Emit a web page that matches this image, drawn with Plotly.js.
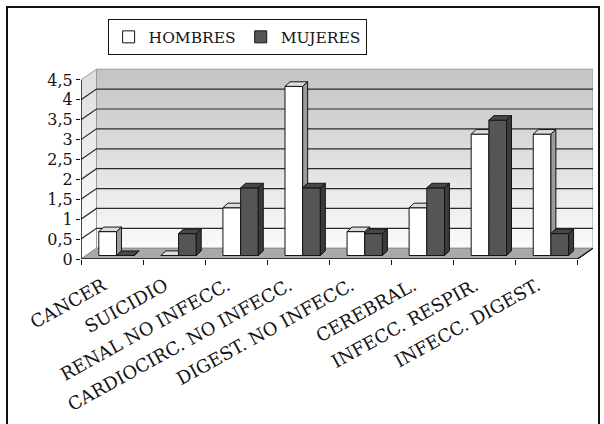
<!DOCTYPE html>
<html>
<head>
<meta charset="utf-8">
<script src="https://cdn.plot.ly/plotly-3.0.1.min.js"></script>
<style>
  html, body { margin: 0; padding: 0; background: #ffffff; }
  #wrap { position: relative; width: 604px; height: 424px; overflow: hidden; }
  #chart { position: absolute; left: 0; top: 0; width: 604px; height: 424px; }
  #frame { position: absolute; left: 6px; top: 6px; width: 590px; height: 440px;
           border: 2px solid #111; pointer-events: none; }
</style>
</head>
<body>
<div id="wrap">
  <div id="chart"></div>
  <div id="frame"></div>
</div>
<script>
// Causes of death by sex
const categories = ['CANCER', 'SUICIDIO', 'RENAL NO INFECC.', 'CARDIOCIRC. NO INFECC.',
                    'DIGEST. NO INFECC.', 'CEREBRAL.', 'INFECC. RESPIR.', 'INFECC. DIGEST.'];
const hombres = [0.6, 0, 1.2, 4.25, 0.6, 1.2, 3.05, 3.05];
const mujeres = [0, 0.55, 1.7, 1.7, 0.55, 1.7, 3.4, 0.55];
const yTickVals = [0, 0.5, 1, 1.5, 2, 2.5, 3, 3.5, 4, 4.5];
const yTickText = ['0', '0,5', '1', '1,5', '2', '2,5', '3', '3,5', '4', '4,5'];

// pseudo-3D geometry, in axis units
const DEPTH_X = 0.25, DEPTH_Y = 0.27;   // depth of floor / side wall
const ROW_X = 0.072, ROW_Y = 0.088;     // where the bar row sits inside the depth
const BAR_W = 0.285;                    // width of one bar
const BAR_DX = 0.08, BAR_DY = 0.115;    // extrusion of each bar

const n = categories.length;
const xIdx = categories.map((_, i) => i);
const xMin = -0.5, xMax = n - 0.5;
const yTop = yTickVals[yTickVals.length - 1];

const FONT = 'DejaVu Serif';
const INK = '#141414';

// helper: append a closed polygon to a gap-separated path
function addPoly(path, pts) {
  pts.forEach(p => { path.x.push(p[0]); path.y.push(p[1]); });
  path.x.push(pts[0][0]); path.y.push(pts[0][1]);
  path.x.push(null); path.y.push(null);
}
function newPath() { return { x: [], y: [] }; }

// ---------- walls and floor (base subplot) ----------
const backWall = {
  type: 'scatter', mode: 'lines', hoverinfo: 'skip', showlegend: false,
  x: [xMin + DEPTH_X, xMax + DEPTH_X, xMax + DEPTH_X, xMin + DEPTH_X, xMin + DEPTH_X],
  y: [DEPTH_Y, DEPTH_Y, yTop + DEPTH_Y, yTop + DEPTH_Y, DEPTH_Y],
  fill: 'toself',
  fillgradient: { type: 'vertical', colorscale: [[0, '#fbfbfb'], [1, '#c3c3c3']] },
  line: { color: '#9a9a9a', width: 1 }
};
const sideWall = {
  type: 'scatter', mode: 'lines', hoverinfo: 'skip', showlegend: false,
  x: [xMin, xMin + DEPTH_X, xMin + DEPTH_X, xMin, xMin],
  y: [0, DEPTH_Y, yTop + DEPTH_Y, yTop, 0],
  fill: 'toself',
  fillgradient: { type: 'vertical', colorscale: [[0, '#ffffff'], [1, '#dedede']] },
  line: { color: '#9a9a9a', width: 1 }
};
const floor = {
  type: 'scatter', mode: 'lines', hoverinfo: 'skip', showlegend: false,
  x: [xMin, xMax, xMax + DEPTH_X, xMin + DEPTH_X, xMin],
  y: [0, 0, DEPTH_Y, DEPTH_Y, 0],
  fill: 'toself', fillcolor: '#a9a9a9',
  line: { color: '#8c8c8c', width: 1 }
};
const grid = newPath();
yTickVals.slice(1, -1).forEach(v => {
  grid.x.push(xMin, xMin + DEPTH_X, xMax + DEPTH_X, null);
  grid.y.push(v, v + DEPTH_Y, v + DEPTH_Y, null);
});
const gridLines = {
  type: 'scatter', mode: 'lines', hoverinfo: 'skip', showlegend: false,
  x: grid.x, y: grid.y, line: { color: '#2b2b2b', width: 1.2 }
};
const axisLines = {
  type: 'scatter', mode: 'lines', hoverinfo: 'skip', showlegend: false,
  x: [xMin, xMin, null, xMin, xMax, xMax + DEPTH_X],
  y: [yTop, 0, null, 0, 0, DEPTH_Y],
  line: { color: INK, width: 1.4 }
};

// ---------- bars (overlay subplot) ----------
const wTop = newPath(), wSide = newPath(), dTop = newPath(), dSide = newPath();
xIdx.forEach(i => {
  const xl = i + ROW_X - BAR_W, xm = i + ROW_X, xr = xm + BAR_W, b = ROW_Y;
  const vw = hombres[i] + b, vd = mujeres[i] + b;
  if (hombres[i] > mujeres[i]) {
    addPoly(wTop, [[xl, vw], [xm, vw], [xm + BAR_DX, vw + BAR_DY], [xl + BAR_DX, vw + BAR_DY]]);
    addPoly(wSide, [[xm, vd], [xm, vw], [xm + BAR_DX, vw + BAR_DY], [xm + BAR_DX, vd + BAR_DY]]);
  } else {
    addPoly(wTop, [[xl, vw], [xm, vw], [xm, vw + BAR_DY], [xl + BAR_DX, vw + BAR_DY]]);
  }
  addPoly(dTop, [[xm, vd], [xr, vd], [xr + BAR_DX, vd + BAR_DY], [xm + BAR_DX, vd + BAR_DY]]);
  addPoly(dSide, [[xr, b], [xr, vd], [xr + BAR_DX, vd + BAR_DY], [xr + BAR_DX, b + BAR_DY]]);
});
function face(path, color) {
  return {
    type: 'scatter', mode: 'lines', hoverinfo: 'skip', showlegend: false,
    x: path.x, y: path.y, fill: 'toself', fillcolor: color,
    line: { color: INK, width: 1 }, xaxis: 'x2', yaxis: 'y2'
  };
}
const barH = {
  type: 'bar', name: 'HOMBRES', x: xIdx, y: hombres, base: ROW_Y,
  offset: ROW_X - BAR_W, width: BAR_W,
  marker: { color: '#ffffff', line: { color: INK, width: 1 } },
  xaxis: 'x2', yaxis: 'y2'
};
const barM = {
  type: 'bar', name: 'MUJERES', x: xIdx, y: mujeres, base: ROW_Y,
  offset: ROW_X, width: BAR_W,
  marker: { color: '#555555', line: { color: INK, width: 1 } },
  xaxis: 'x2', yaxis: 'y2'
};

const data = [backWall, sideWall, floor, gridLines, axisLines,
              barH, barM,
              face(wTop, '#dcdcdc'), face(wSide, '#9c9c9c'),
              face(dTop, '#474747'), face(dSide, '#3a3a3a')];

const xRange = [xMin, xMax + DEPTH_X];
const yRange = [0, 4.8];
const boundaries = xIdx.map(i => i - 0.5).concat([xMax]);

const layout = {
  width: 604, height: 424,
  margin: { l: 81, r: 11, t: 68, b: 165, pad: 0 },
  paper_bgcolor: 'rgba(0,0,0,0)', plot_bgcolor: 'rgba(0,0,0,0)',
  font: { family: FONT, color: INK, size: 16 },
  barmode: 'overlay',
  showlegend: true,
  legend: {
    orientation: 'h', x: 0.052, y: 1.255, xanchor: 'left', yanchor: 'top',
    bgcolor: '#ffffff', bordercolor: INK, borderwidth: 1,
    font: { family: FONT, size: 15.5, color: INK },
    itemwidth: 30, traceorder: 'normal'
  },
  xaxis: {
    range: xRange, fixedrange: true,
    tickmode: 'array', tickvals: boundaries, showticklabels: false,
    ticks: 'outside', ticklen: 5, tickwidth: 1, tickcolor: INK,
    showgrid: false, zeroline: false, showline: false
  },
  yaxis: {
    range: yRange, fixedrange: true,
    tickmode: 'array', tickvals: yTickVals, ticktext: yTickText,
    ticks: 'outside', ticklen: 4, tickwidth: 1, tickcolor: INK,
    tickfont: { family: FONT, size: 16, color: INK },
    showgrid: false, zeroline: false, showline: false
  },
  xaxis2: {
    overlaying: 'x', anchor: 'y2', side: 'bottom',
    range: xRange, fixedrange: true,
    tickmode: 'array', tickvals: xIdx, ticktext: categories,
    tickangle: -29, ticks: '',
    ticklabelstandoff: 12, ticklabelshift: -9,
    tickfont: { family: FONT, size: 18, color: INK },
    showgrid: false, zeroline: false, showline: false
  },
  yaxis2: {
    overlaying: 'y', anchor: 'x2', range: yRange, fixedrange: true, visible: false
  }
};

Plotly.newPlot('chart', data, layout, { displayModeBar: false, staticPlot: true });
</script>
</body>
</html>
